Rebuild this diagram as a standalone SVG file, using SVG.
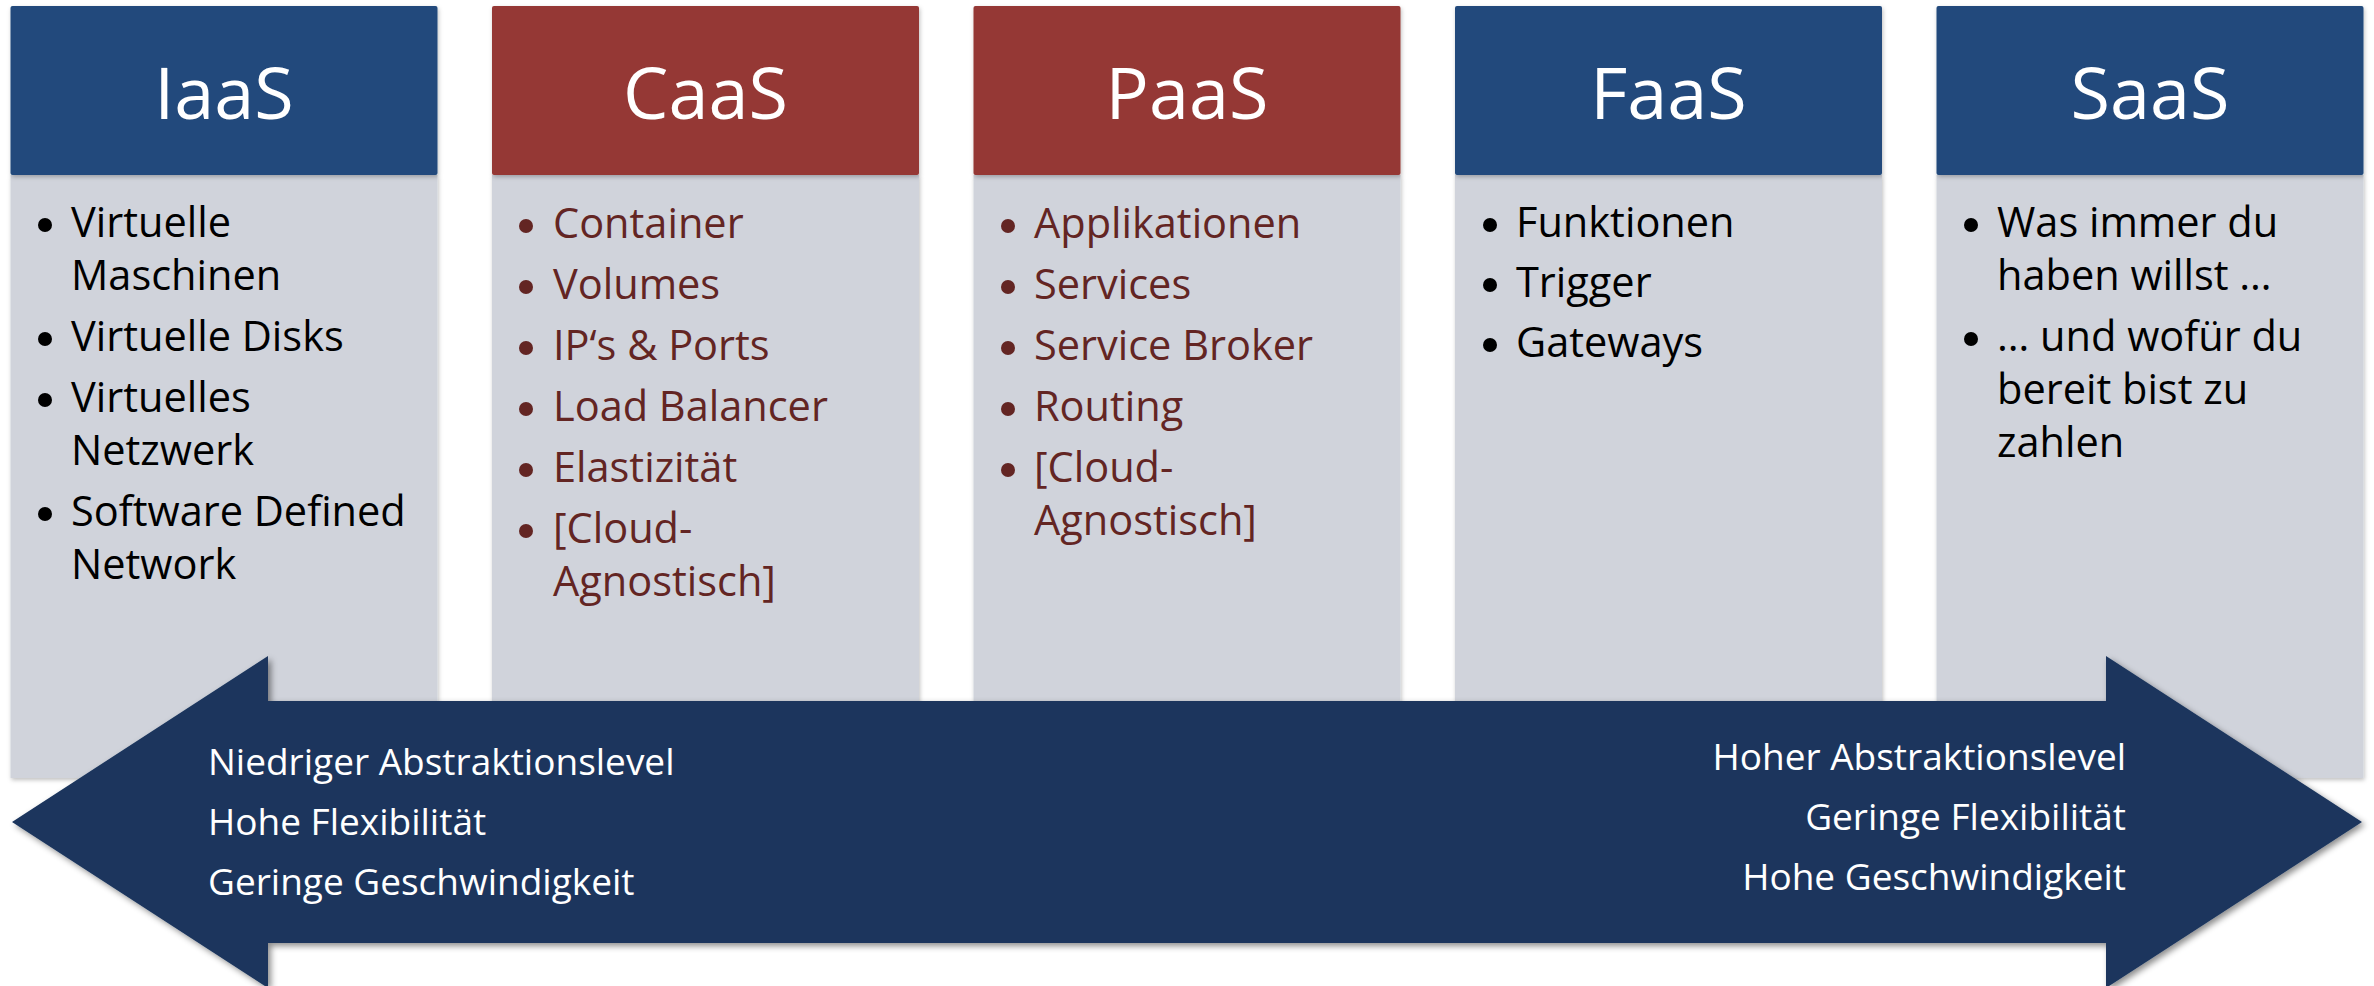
<svg xmlns="http://www.w3.org/2000/svg" width="2374" height="986" viewBox="0 0 2374 986">
<defs>
<style>
.hdr{font-family:"Open Sans","Liberation Sans",sans-serif;font-size:72px;fill:#ffffff;text-anchor:middle}
.it{font-family:"Open Sans","Liberation Sans",sans-serif;font-size:41.5px}
.blk{fill:#000000}
.red{fill:#632523}
.hb{fill:#214A7C}
.hr{fill:#953735}
.body{fill:#D0D3DB}
.bd{fill:#000000}
.br{fill:#632523}
.ar{font-family:"Open Sans","Liberation Sans",sans-serif;font-size:37px;fill:#ffffff}
</style>
<filter id="sh" x="-5%" y="-5%" width="110%" height="110%">
<feDropShadow dx="1" dy="2" stdDeviation="2" flood-color="#000" flood-opacity="0.25"/>
</filter>
<filter id="ash" x="-5%" y="-10%" width="110%" height="120%">
<feDropShadow dx="3" dy="3" stdDeviation="3" flood-color="#000" flood-opacity="0.45"/>
</filter>
</defs>
<rect width="2374" height="986" fill="#ffffff"/>

<g id="iaas">
<rect class="body" x="10.5" y="175" width="427" height="603" filter="url(#sh)"/>
<rect class="hb" x="10.5" y="6" width="427" height="169" rx="2" filter="url(#sh)"/>
<text class="hdr" x="224" y="119">IaaS</text>
<g class="bd"><circle cx="45" cy="225" r="7"/><circle cx="45" cy="339" r="7"/><circle cx="45" cy="400" r="7"/><circle cx="45" cy="514" r="7"/></g>
<text class="it blk" x="71" y="237">Virtuelle</text>
<text class="it blk" x="71" y="290">Maschinen</text>
<text class="it blk" x="71" y="351">Virtuelle Disks</text>
<text class="it blk" x="71" y="412">Virtuelles</text>
<text class="it blk" x="71" y="465">Netzwerk</text>
<text class="it blk" x="71" y="526">Software Defined</text>
<text class="it blk" x="71" y="579">Network</text>
</g>

<g id="caas">
<rect class="body" x="492" y="175" width="427" height="603" filter="url(#sh)"/>
<rect class="hr" x="492" y="6" width="427" height="169" rx="2" filter="url(#sh)"/>
<text class="hdr" x="705.5" y="119">CaaS</text>
<g class="br"><circle cx="526" cy="226" r="7"/><circle cx="526" cy="287" r="7"/><circle cx="526" cy="348" r="7"/><circle cx="526" cy="409" r="7"/><circle cx="526" cy="470" r="7"/><circle cx="526" cy="531" r="7"/></g>
<text class="it red" x="553" y="238">Container</text>
<text class="it red" x="553" y="299">Volumes</text>
<text class="it red" x="553" y="360">IP‘s &amp; Ports</text>
<text class="it red" x="553" y="421">Load Balancer</text>
<text class="it red" x="553" y="482">Elastizität</text>
<text class="it red" x="553" y="543">[Cloud-</text>
<text class="it red" x="553" y="596">Agnostisch]</text>
</g>

<g id="paas">
<rect class="body" x="973.5" y="175" width="427" height="603" filter="url(#sh)"/>
<rect class="hr" x="973.5" y="6" width="427" height="169" rx="2" filter="url(#sh)"/>
<text class="hdr" x="1187" y="119">PaaS</text>
<g class="br"><circle cx="1008" cy="226" r="7"/><circle cx="1008" cy="287" r="7"/><circle cx="1008" cy="348" r="7"/><circle cx="1008" cy="409" r="7"/><circle cx="1008" cy="470" r="7"/></g>
<text class="it red" x="1034" y="238">Applikationen</text>
<text class="it red" x="1034" y="299">Services</text>
<text class="it red" x="1034" y="360">Service Broker</text>
<text class="it red" x="1034" y="421">Routing</text>
<text class="it red" x="1034" y="482">[Cloud-</text>
<text class="it red" x="1034" y="535">Agnostisch]</text>
</g>

<g id="faas">
<rect class="body" x="1455" y="175" width="427" height="603" filter="url(#sh)"/>
<rect class="hb" x="1455" y="6" width="427" height="169" rx="2" filter="url(#sh)"/>
<text class="hdr" x="1668.5" y="119">FaaS</text>
<g class="bd"><circle cx="1490" cy="225" r="7"/><circle cx="1490" cy="285" r="7"/><circle cx="1490" cy="345" r="7"/></g>
<text class="it blk" x="1516" y="237">Funktionen</text>
<text class="it blk" x="1516" y="297">Trigger</text>
<text class="it blk" x="1516" y="357">Gateways</text>
</g>

<g id="saas">
<rect class="body" x="1936.5" y="175" width="427" height="603" filter="url(#sh)"/>
<rect class="hb" x="1936.5" y="6" width="427" height="169" rx="2" filter="url(#sh)"/>
<text class="hdr" x="2150" y="119">SaaS</text>
<g class="bd"><circle cx="1971" cy="225" r="7"/><circle cx="1971" cy="339" r="7"/></g>
<text class="it blk" x="1997" y="237">Was immer du</text>
<text class="it blk" x="1997" y="290">haben willst …</text>
<text class="it blk" x="1997" y="351">… und wofür du</text>
<text class="it blk" x="1997" y="404">bereit bist zu</text>
<text class="it blk" x="1997" y="457">zahlen</text>
</g>

<g id="connectors">
<g id="scale-arrow">
<polygon points="12,822 268,656 268,701 2106,701 2106,656 2362,822 2106,988 2106,943 268,943 268,988" fill="#1B365D" filter="url(#ash)"/>
<text class="ar" x="208" y="775">Niedriger Abstraktionslevel</text>
<text class="ar" x="208" y="835">Hohe Flexibilität</text>
<text class="ar" x="208" y="895">Geringe Geschwindigkeit</text>
<text class="ar" x="2126" y="770" text-anchor="end">Hoher Abstraktionslevel</text>
<text class="ar" x="2126" y="830" text-anchor="end">Geringe Flexibilität</text>
<text class="ar" x="2126" y="890" text-anchor="end">Hohe Geschwindigkeit</text>
</g>
</g>
</svg>
